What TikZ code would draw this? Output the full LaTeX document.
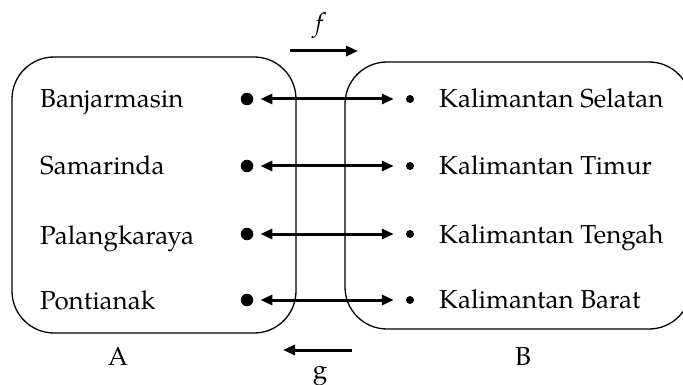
\documentclass[tikz,border=0pt]{standalone}
\usepackage{fontspec}
\setmainfont{texgyrepagella}[Extension=.otf, UprightFont=*-regular, ItalicFont=*-italic, BoldFont=*-bold]
\usetikzlibrary{arrows.meta}
\begin{document}
\begin{tikzpicture}[x=1pt,y=-1pt,
  setbox/.style={draw,line width=1.3pt,rounded corners=42pt},
  bigdot/.style={circle,fill,inner sep=0pt,minimum size=12.5pt},
  smalldot/.style={circle,fill,inner sep=0pt,minimum size=8pt},
  link/.style={line width=3pt,{Triangle[length=12pt,width=10pt]}-{Triangle[length=12pt,width=10pt]},shorten <=7pt,shorten >=12pt},
  maparrow/.style={line width=3pt,-{Triangle[length=12pt,width=10pt]}},
  lbl/.style={inner sep=0pt,font=\fontsize{26}{30}\selectfont}]
\useasboundingbox (0,0) rectangle (683,385);
\begin{scope}
\clip (0,0) rectangle (683,385);
\draw[setbox] (12,57) rectangle (296,333);
\draw[setbox] (345,62) rectangle (691,329);
\end{scope}
% left set
\node[bigdot] (a1) at (247,99) {};
\node[bigdot] (a2) at (247,166) {};
\node[bigdot] (a3) at (247,234) {};
\node[bigdot] (a4) at (247,300) {};
\node[lbl,anchor=base west] (ta1) at (40,108) {Banjarmasin};
\node[lbl,anchor=base west] (ta2) at (40,175) {Samarinda};
\node[lbl,anchor=base west] (ta3) at (40,244) {Palangkaraya};
\node[lbl,anchor=base west] (ta4) at (40,309) {Pontianak};
% right set
\node[smalldot] (b1) at (410,99) {};
\node[smalldot] (b2) at (410,166) {};
\node[smalldot] (b3) at (410,234) {};
\node[smalldot] (b4) at (410,300) {};
\node[lbl,anchor=base west] (tb1) at (439,108) {Kalimantan Selatan};
\node[lbl,anchor=base west] (tb2) at (439,175) {Kalimantan Timur};
\node[lbl,anchor=base west] (tb3) at (439,243) {Kalimantan Tengah};
\node[lbl,anchor=base west] (tb4) at (439,308) {Kalimantan Barat};
% links
\draw[link] (a1) -- (b1);
\draw[link] (a2) -- (b2);
\draw[link] (a3) -- (b3);
\draw[link] (a4) -- (b4);
% f and g
\coordinate (f1) at (290,51);
\coordinate (f2) at (358,51);
\draw[maparrow] (f1) -- (f2);
\node[lbl] (f) at (321,26) {\textit{f}};
\coordinate (g1) at (352,350);
\coordinate (g2) at (283,350);
\draw[maparrow] (g1) -- (g2);
\node[lbl,anchor=base] (g) at (320,378) {g};
% set labels
\node[lbl,anchor=base] (A) at (118,365) {A};
\node[lbl,anchor=base] (B) at (523,365) {B};
\end{tikzpicture}
\end{document}
